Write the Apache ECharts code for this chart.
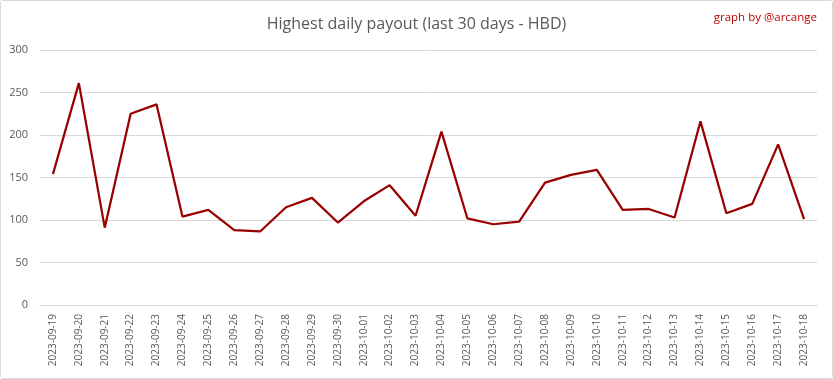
<!DOCTYPE html>
<html>
<head>
<meta charset="utf-8">
<script src="https://cdn.jsdelivr.net/npm/echarts@6/dist/echarts.min.js"></script>
<style>
html,body{margin:0;padding:0;background:#fff;}
#c{width:833px;height:379px;box-sizing:border-box;border:1px solid #d9d9d9;border-radius:3px;}
</style>
</head>
<body>
<div id="c"></div>
<script>
const categories = ["2023-09-19","2023-09-20","2023-09-21","2023-09-22","2023-09-23","2023-09-24","2023-09-25","2023-09-26","2023-09-27","2023-09-28","2023-09-29","2023-09-30","2023-10-01","2023-10-02","2023-10-03","2023-10-04","2023-10-05","2023-10-06","2023-10-07","2023-10-08","2023-10-09","2023-10-10","2023-10-11","2023-10-12","2023-10-13","2023-10-14","2023-10-15","2023-10-16","2023-10-17","2023-10-18"];
const payout = [154,261,91,225,236,104,112,88,86.5,115,126,97,122,141,105,204,102,95,98,144,153,159,112,113,103,216,108,119,189,101];
const titleText = "Highest daily payout (last 30 days - HBD)";
const creditText = "graph by @arcange";

const chart = echarts.init(document.getElementById('c'), null, {renderer:'canvas'});
chart.setOption({
  animation:false,
  backgroundColor:'#fff',
  title:[
    {text:titleText, left:'center', top:10, textStyle:{fontFamily:'Open Sans', fontSize:16, fontWeight:'normal', color:'#595959'}},
    {text:creditText, right:10, top:6, textStyle:{fontFamily:'Open Sans', fontSize:11.5, fontWeight:'normal', color:'#c00000'}}
  ],
  grid:{left:39, right:15, top:49, bottom:73, containLabel:false},
  xAxis:{
    type:'category', data:categories, boundaryGap:true,
    axisLine:{show:true, lineStyle:{color:'#d9d9d9'}},
    axisTick:{show:false},
    axisLabel:{rotate:90, interval:0, color:'#595959', fontFamily:'Open Sans', fontSize:10, margin:9}
  },
  yAxis:{
    type:'value', min:0, max:300, interval:50,
    axisLine:{show:false}, axisTick:{show:false},
    splitLine:{lineStyle:{color:'#d9d9d9'}},
    axisLabel:{color:'#595959', fontFamily:'Open Sans', fontSize:11, margin:12}
  },
  series:[{type:'line', data:payout, symbol:'none', lineStyle:{color:'#990000', width:2.25}, itemStyle:{color:'#990000'}}]
});
</script>
</body>
</html>
